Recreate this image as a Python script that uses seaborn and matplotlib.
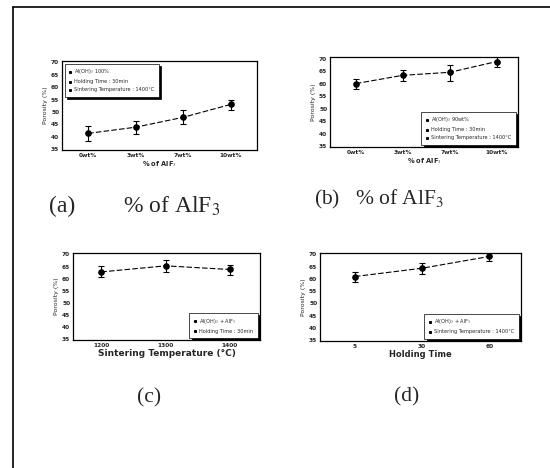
import matplotlib
matplotlib.use("Agg")
import matplotlib.pyplot as plt
import seaborn as sns
import pandas as pd
import numpy as np
from matplotlib.lines import Line2D

sns.set_theme(style="white")
plt.rcParams['font.family'] = ['DejaVu Sans']
plt.rcParams['mathtext.fontset'] = 'stix'

# ---- data ----
a_cats = ["0wt%", "3wt%", "7wt%", "10wt%"]
a_vals = [41.4, 43.9, 47.9, 53.1]
a_lo = [38.4, 41.1, 45.2, 51.0]
a_hi = [44.3, 46.2, 50.9, 55.0]
a_legend = ["Al(OH)$_3$ 100%", "Holding Time : 30min", "Sintering Temperature : 1400\u00b0C"]

b_cats = ["0wt%", "3wt%", "7wt%", "10wt%"]
b_vals = [60.0, 63.3, 64.5, 68.8]
b_lo = [58.0, 61.0, 61.2, 66.6]
b_hi = [62.0, 65.5, 67.3, 70.7]
b_legend = ["Al(OH)$_3$ 90wt%", "Holding Time : 30min", "Sintering Temperature : 1400\u00b0C"]

c_cats = ["1200", "1300", "1400"]
c_vals = [62.8, 65.3, 63.8]
c_lo = [60.8, 62.8, 61.5]
c_hi = [65.1, 67.6, 65.8]
c_legend = ["Al(OH)$_3$ + AlF$_3$", "Holding Time : 30min"]

d_cats = ["5", "30", "60"]
d_vals = [61.0, 64.4, 69.2]
d_lo = [58.9, 62.0, 67.3]
d_hi = [63.0, 66.6, 71.4]
d_legend = ["Al(OH)$_3$ + AlF$_3$", "Sintering Temperature : 1400\u00b0C"]

yticks = [35, 40, 45, 50, 55, 60, 65, 70]

fig = plt.figure(figsize=(5.5, 4.68), dpi=100)

# outer frame (top and left lines)
fig.add_artist(Line2D([13/550, 1.0], [1 - 7/468, 1 - 7/468], color='black', lw=1.2))
fig.add_artist(Line2D([13/550, 13/550], [0, 1 - 7/468], color='black', lw=1.2))

def panel(rect, cats, vals, lo, hi, xlabel, xlab_size, legend_lines, legend_loc, xpad):
    ax = fig.add_axes(rect)
    df = pd.DataFrame({"x": cats, "y": vals})
    sns.lineplot(data=df, x="x", y="y", ax=ax, color="black", lw=0.8,
                 linestyle=(0, (5, 2)), marker="o", markersize=4,
                 markeredgecolor="black", sort=False)
    pos = np.arange(len(cats))
    v = np.array(vals); l = np.array(lo); h = np.array(hi)
    ax.errorbar(pos, v, yerr=[v - l, h - v], fmt="none", ecolor="black",
                elinewidth=0.8, capsize=2.5, capthick=0.8)
    ax.set_ylim(34.7, 70.6)
    ax.set_yticks(yticks)
    ax.set_yticklabels([str(t) for t in yticks])
    ax.set_xlim(-xpad[0], len(cats) - 1 + xpad[1])
    ax.set_xticks(pos)
    ax.set_xticklabels(cats)
    ax.tick_params(axis="both", labelsize=4.2, length=2, width=0.6, direction="in", pad=2)
    for t in ax.get_xticklabels() + ax.get_yticklabels():
        t.set_fontweight("bold")
    ax.set_ylabel("Porosity (%)", fontsize=4.5, labelpad=2)
    ax.set_xlabel(xlabel, fontsize=xlab_size, fontweight="bold", labelpad=1)
    for s in ax.spines.values():
        s.set_color("black"); s.set_linewidth(0.9); s.set_visible(True)
    handles = [Line2D([], [], marker="s", markersize=1.2, color="black", lw=0) for _ in legend_lines]
    leg = ax.legend(handles, legend_lines, loc=legend_loc, fontsize=3.6, frameon=True,
                    fancybox=False, shadow={"color": "black", "alpha": 1.0, "ox": 2, "oy": -2},
                    handlelength=0.6, handletextpad=0.6, borderpad=0.8, labelspacing=0.6)
    leg.get_frame().set_edgecolor("black")
    leg.get_frame().set_linewidth(0.5)
    return ax

panel([62/550, 1 - 150/468, 195/550, 89/468], a_cats, a_vals, a_lo, a_hi,
      "% of AlF$_3$", 4.8, a_legend, "upper left", (0.55, 0.55))
panel([330/550, 1 - 147/468, 188/550, 90/468], b_cats, b_vals, b_lo, b_hi,
      "% of AlF$_3$", 4.8, b_legend, "lower right", (0.55, 0.45))
panel([73/550, 1 - 340/468, 187/550, 87/468], c_cats, c_vals, c_lo, c_hi,
      "Sintering Temperature (\u00b0C)", 6.5, c_legend, "lower right", (0.44, 0.47))
panel([320/550, 1 - 341/468, 201/550, 88/468], d_cats, d_vals, d_lo, d_hi,
      "Holding Time", 6.0, d_legend, "lower right", (0.52, 0.47))

cap = dict(family="Liberation Serif", ha="center", va="center")
fig.text(62/550, 1 - 206/468, "(a)", fontsize=17, **cap)
fig.text(172/550, 1 - 206/468, "% of AlF$_3$", fontsize=17, **cap)
fig.text(379/550, 1 - 199/468, "(b)   % of AlF$_3$", fontsize=15.5, **cap)
fig.text(149/550, 1 - 398/468, "(c)", fontsize=15.5, **cap)
fig.text(407/550, 1 - 397/468, "(d)", fontsize=15.5, **cap)

fig.savefig("out.png", dpi=100)
